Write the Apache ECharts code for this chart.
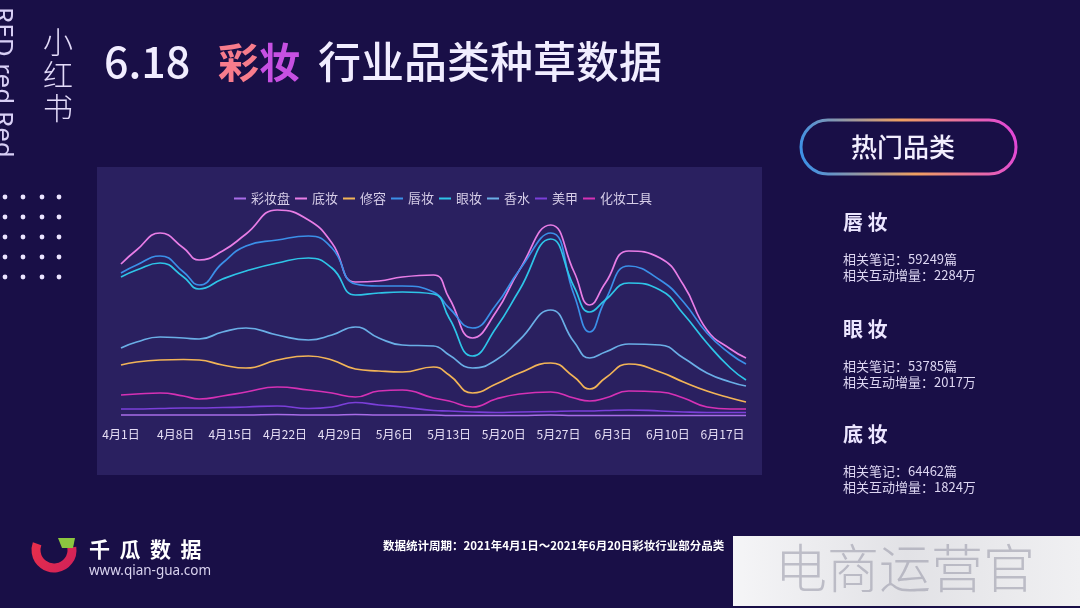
<!DOCTYPE html>
<html>
<head>
<meta charset="utf-8">
<script src="https://cdn.jsdelivr.net/npm/echarts@6/dist/echarts.min.js"></script>
<style>html,body{margin:0;padding:0;background:#190f47;}#c{width:1080px;height:608px;}</style>
</head>
<body>
<div id="c"></div>
<script>
// ---- data ----
const days = [0, 2, 5, 8, 10, 13, 16, 20, 24, 27, 30, 33, 36, 40, 42, 45, 48, 51, 55, 58, 60, 62, 65, 69, 72, 75, 78, 80];
const tickLabels = ['4月1日','4月8日','4月15日','4月22日','4月29日','5月6日','5月13日','5月20日','5月27日','6月3日','6月10日','6月17日'];
const seriesNames = ['彩妆盘','底妆','修容','唇妆','眼妆','香水','美甲','化妆工具'];
const caizhuangpan = [5,5,5,5,5,5,5,5.5,5,5,5.5,5,5,5,4.5,4.5,4.5,4.5,5,4.5,4.5,4.5,4.5,4.5,4.5,4.5,4.5,4.5];
const dizhuang   = [156,170,187,172,160,169,186,210,200,177,138,139,143,145,122,82,108,150,195,148,115,137,169,162,135,90,71,62];
const xiurong    = [55,58,60,60.5,60,55,52,60,64,60,51,49,48,53,45,27,36,47,57,43,31,42,56,48,38,29,22,18];
const chunzhuang = [147,155,164,148,135,157,174,180,184,172,136,134,134,128,112,92,115,150,187,125,88,120,154,140,118,87,66,56];
const yanzhuang  = [143,150,157,143,131,141,149,157,162,152,125,127,128,126,102,64,92,130,181,133,108,120,137,130,106,77,52,40];
const xiangshui  = [72,78,83,82,81,88,92,85,80,85,93,82,75,74,65,52,60,80,110,78,62,68,76,75,62,47,38,34];
const meijia     = [11,11,11.5,12,12,12.5,13,14,11.5,13,17.5,15,13,9.5,9,8,7.5,8,8.5,9,9,9.5,10,9,8,7.5,7.5,7.5];
const gongju     = [25,26,27,24,21,24,28,33,30,27,23,29,30,22,19,13,21,26,28,22,19,22,29,28,22,13,11,11];
const seriesValues = [caizhuangpan, dizhuang, xiurong, chunzhuang, yanzhuang, xiangshui, meijia, gongju];
const seriesColors = ['#a86ce8','#e87de6','#f2b457','#3b8fe8','#2ec5e8','#6aaee6','#7b3fd9','#d531b5'];

const hotCats = ['唇 妆','眼 妆','底 妆'];
const hotNotes = ['59249','53785','64462'];
const hotGrowth = ['2284','2017','1824'];

// ---- chart ----
const chart = echarts.init(document.getElementById('c'), null, {renderer:'canvas'});
const FONT = 'Noto Sans CJK SC';
const G = echarts.graphic;

const graphics = [];
// chart panel
graphics.push({type:'rect', shape:{x:97,y:167,width:665,height:308}, style:{fill:'#2a2060'}, z:-10});
// left vertical english
graphics.push({type:'text', x:-11, y:7, rotation:-Math.PI/2, style:{text:'RED red Red', fill:'#d8cff5', font:'26px "Noto Sans"', textAlign:'left', textVerticalAlign:'bottom'}});
// 小红书
graphics.push({type:'text', x:58, y:25, style:{text:'小\n红\n书', fill:'#e4dcfa', font:'300 30px "'+FONT+'"', lineHeight:33, textAlign:'center', textVerticalAlign:'top'}});
// dots
[5,23,42,59].forEach(x=>{[197,217,237,257,277].forEach(y=>{graphics.push({type:'circle', shape:{cx:x,cy:y,r:2.4}, style:{fill:'#ebe4ff'}});});});
// title
graphics.push({type:'text', x:104, y:62, style:{text:'6.18', fill:'#f1edff', font:'500 43px "'+FONT+'"', textVerticalAlign:'middle'}});
graphics.push({type:'text', x:218, y:62, style:{text:'{a|彩}{b|妆}', font:'bold 41px "'+FONT+'"', textVerticalAlign:'middle',
  rich:{a:{fill:'#f77c8c', font:'bold 41px "'+FONT+'"'}, b:{fill:'#c650e2', font:'bold 41px "'+FONT+'"'}}}});
graphics.push({type:'text', x:318, y:62, style:{text:'行业品类种草数据', fill:'#f1edff', font:'500 43px "'+FONT+'"', textVerticalAlign:'middle'}});
// hot pill
graphics.push({type:'rect', shape:{x:801,y:120,width:215,height:54,r:27}, style:{fill:'none', lineWidth:3,
  stroke:new G.LinearGradient(0,1,1,0,[{offset:0,color:'#2f8ff0'},{offset:0.5,color:'#f0a060'},{offset:1,color:'#e040e0'}])}});
graphics.push({type:'text', x:903, y:147, style:{text:'热门品类', fill:'#f3efff', font:'500 26px "'+FONT+'"', textAlign:'center', textVerticalAlign:'middle'}});
const catY = [222, 329, 434];
hotCats.forEach((c,i)=>{
  graphics.push({type:'text', x:843, y:catY[i], style:{text:c, fill:'#ece6ff', font:'bold 20px "'+FONT+'"', textVerticalAlign:'middle'}});
  graphics.push({type:'text', x:843, y:catY[i]+37, style:{text:'相关笔记：'+hotNotes[i]+'篇', fill:'#ddd6f2', font:'13px "'+FONT+'"', textVerticalAlign:'middle'}});
  graphics.push({type:'text', x:843, y:catY[i]+53, style:{text:'相关互动增量：'+hotGrowth[i]+'万', fill:'#ddd6f2', font:'13px "'+FONT+'"', textVerticalAlign:'middle'}});
});
// logo
graphics.push({type:'arc', shape:{cx:54,cy:550,r:18,startAngle:-0.15,endAngle:Math.PI+0.35,clockwise:true}, style:{fill:'none', lineWidth:9,
  stroke:new G.LinearGradient(0,0,1,1,[{offset:0,color:'#e8304a'},{offset:1,color:'#d0205a'}])}});
graphics.push({type:'polygon', shape:{points:[[58,538],[75,538],[73,548],[62,548]]}, style:{fill:'#8cc63f'}});
graphics.push({type:'text', x:89, y:549, style:{text:'千  瓜  数  据', fill:'#ffffff', font:'bold 21px "'+FONT+'"', textVerticalAlign:'middle'}});
graphics.push({type:'text', x:89, y:571, style:{text:'www.qian-gua.com', fill:'#d8d2ee', font:'13.5px "Noto Sans"', textVerticalAlign:'middle'}});
// footnote
graphics.push({type:'text', x:383, y:546, style:{text:'数据统计周期：2021年4月1日～2021年6月20日彩妆行业部分品类', fill:'#ffffff', font:'bold 11.5px "'+FONT+'"', textVerticalAlign:'middle'}});
// white box bottom right
graphics.push({type:'rect', shape:{x:733,y:536,width:347,height:70}, style:{fill:new G.LinearGradient(0,0,1,0,[{offset:0,color:'#f5f5f7'},{offset:0.5,color:'#e2e2e6'},{offset:1,color:'#f0f0f2'}])}});
graphics.push({type:'text', x:905, y:568, style:{text:'电商运营官', fill:'rgba(150,150,165,0.55)', font:'300 52px "'+FONT+'"', textAlign:'center', textVerticalAlign:'middle'}});

const series = seriesNames.map((name,i)=>({
  name, type:'line', smooth:0.5, symbol:'none', showSymbol:false,
  lineStyle:{width:1.7, color:seriesColors[i]}, itemStyle:{color:seriesColors[i]},
  data: days.map((d,j)=>[d, seriesValues[i][j]])
}));

chart.setOption({
  backgroundColor:'#190f47',
  animation:false,
  graphic: graphics,
  legend:{ data:seriesNames, left:229, top:187, icon:'rect', itemWidth:12, itemHeight:2, itemGap:5,
    textStyle:{color:'#d6cde8', fontSize:13, fontFamily:FONT} },
  grid:{ left:121, right:334, top:200, bottom:188, containLabel:false },
  xAxis:{ type:'value', min:0, max:80, interval:7,
    axisLine:{show:false}, axisTick:{show:false}, splitLine:{show:false},
    axisLabel:{ color:'#e6def5', fontSize:12, fontFamily:FONT, margin:8, showMaxLabel:false,
      formatter:v=>(v%7===0 && tickLabels[v/7]) ? tickLabels[v/7] : '' } },
  yAxis:{ type:'value', min:0, max:220, show:false, splitLine:{show:false} },
  series
});
</script>
</body>
</html>
